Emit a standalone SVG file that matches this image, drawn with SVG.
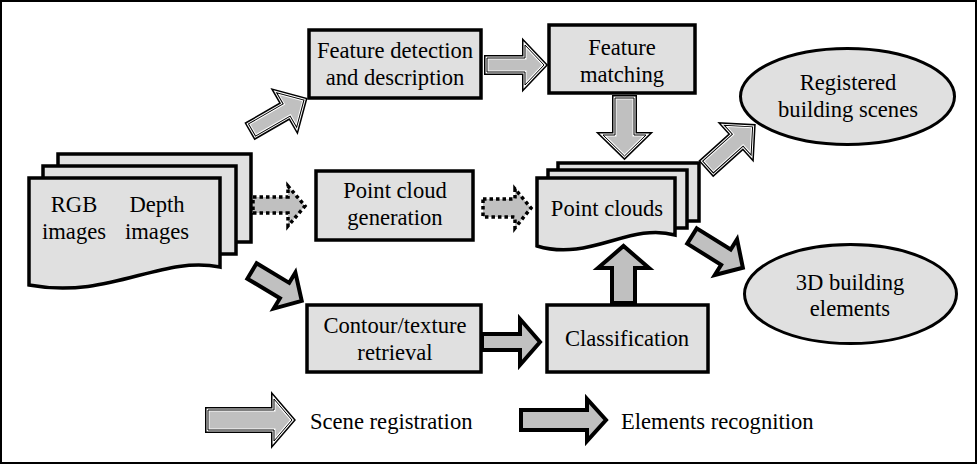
<svg xmlns="http://www.w3.org/2000/svg" xmlns:xlink="http://www.w3.org/1999/xlink" width="977" height="465" viewBox="0 0 977 465">
<style>
.box{fill:#e0e0e0;stroke:#000;stroke-width:3.5}
.ell{fill:#e0e0e0;stroke:#000;stroke-width:3}
.o1{fill:none;stroke:#000;stroke-width:6;stroke-linejoin:miter}
.o2{fill:#c0c0c0;stroke:#fff;stroke-width:3}
.o3{fill:none;stroke:#000;stroke-width:1}
.thick{fill:#c0c0c0;stroke:#000;stroke-width:4;stroke-linejoin:miter}
.dot{fill:#c0c0c0;stroke:#000;stroke-width:3.5;stroke-dasharray:3.5 3}
.t{font-family:'Liberation Serif','DejaVu Serif',serif;font-size:22.6px;text-anchor:middle;fill:#000}
.s{text-anchor:start}
</style>
<defs>
<path id="a1" d="M0,-7 H40 V-20 L60,0 L40,20 V7 H0 Z" transform="translate(252,130) rotate(-30)"/>
<path id="a2" d="M487,58 H525 V45 L544,65 L525,85 V72 H487 Z"/>
<path id="a3" d="M615,98 V135 H603 L624.5,156 L646,135 H634 V98 Z"/>
<path id="a4" d="M0,-8 H40 V-20 L60,0 L40,20 V8 H0 Z" transform="translate(708,167) rotate(-42)"/>
<path id="l1" d="M208,410 H274 V399 L292,420 L274,441 V430 H208 Z"/>
</defs>
<rect x="1" y="1" width="975" height="462" fill="#fff" stroke="#000" stroke-width="2"/>

<g id="connectors">
<use xlink:href="#a1" class="o1"/><use xlink:href="#a1" class="o2"/><use xlink:href="#a1" class="o3"/>
<use xlink:href="#a2" class="o1"/><use xlink:href="#a2" class="o2"/><use xlink:href="#a2" class="o3"/>
<use xlink:href="#a3" class="o1"/><use xlink:href="#a3" class="o2"/><use xlink:href="#a3" class="o3"/>
<use xlink:href="#a4" class="o1"/><use xlink:href="#a4" class="o2"/><use xlink:href="#a4" class="o3"/>
<path class="thick" d="M0,-9 H38 V-21 L58,0 L38,21 V9 H0 Z" transform="translate(252,271) rotate(31)"/>
<path class="thick" d="M0,-9 H40 V-21 L60,0 L40,21 V9 H0 Z" transform="translate(692,236) rotate(32)"/>
<path class="thick" d="M482,334 H520 V319 L540,342 L520,365 V350 H482 Z"/>
<path class="thick" d="M612,303 V268 H598 L623.5,246 L649,268 H635 V303 Z"/>
<path class="dot" d="M253,197 H288 V186 L305,206 L288,226 V213 H253 Z"/>
<path class="dot" d="M483,199 H515 V189 L531,208 L515,228 V217 H483 Z"/>
</g>

<g id="node-images">
<rect class="box" x="58" y="154" width="193" height="88"/>
<rect class="box" x="43" y="166" width="193" height="88"/>
<path class="box" d="M29,178 H220 V267 C160,255 110,300 29,285 Z"/>
<text class="t" x="74" y="212">RGB</text>
<text class="t" x="74" y="239">images</text>
<text class="t" x="157" y="212">Depth</text>
<text class="t" x="157" y="239">images</text>
</g>

<g id="node-feature-detection">
<rect class="box" x="309" y="30" width="172" height="68"/>
<text class="t" x="395" y="58">Feature detection</text>
<text class="t" x="395" y="85">and description</text>
</g>

<g id="node-feature-matching">
<rect class="box" x="549" y="25" width="146" height="68"/>
<text class="t" x="622" y="55">Feature</text>
<text class="t" x="622" y="82">matching</text>
</g>

<g id="node-point-cloud-generation">
<rect class="box" x="316" y="171" width="157" height="69"/>
<text class="t" x="395" y="198">Point cloud</text>
<text class="t" x="395" y="225">generation</text>
</g>

<g id="node-point-clouds">
<rect class="box" x="558" y="163" width="141" height="58"/>
<rect class="box" x="548" y="170" width="139" height="58"/>
<path class="box" d="M537,178 H675 V235 C630,222 590,262 537,246 Z"/>
<text class="t" x="607" y="216">Point clouds</text>
</g>

<g id="node-contour">
<rect class="box" x="307" y="305" width="174" height="67"/>
<text class="t" x="395" y="333">Contour/texture</text>
<text class="t" x="395" y="360">retrieval</text>
</g>

<g id="node-classification">
<rect class="box" x="547" y="305" width="161" height="67"/>
<text class="t" x="627" y="346">Classification</text>
</g>

<g id="node-registered">
<ellipse class="ell" cx="847.5" cy="96.5" rx="107" ry="48"/>
<text class="t" x="848" y="90">Registered</text>
<text class="t" x="848" y="117">building scenes</text>
</g>

<g id="node-3d-elements">
<ellipse class="ell" cx="850.5" cy="294" rx="106" ry="49.5"/>
<text class="t" x="850" y="290">3D building</text>
<text class="t" x="850" y="316">elements</text>
</g>

<g id="legend">
<use xlink:href="#l1" class="o1"/><use xlink:href="#l1" class="o2"/><use xlink:href="#l1" class="o3"/>
<text class="t s" x="310" y="429">Scene registration</text>
<path class="thick" d="M521,410 H587 V399 L606,420 L587,441 V430 H521 Z"/>
<text class="t s" x="621" y="429">Elements recognition</text>
</g>
</svg>
